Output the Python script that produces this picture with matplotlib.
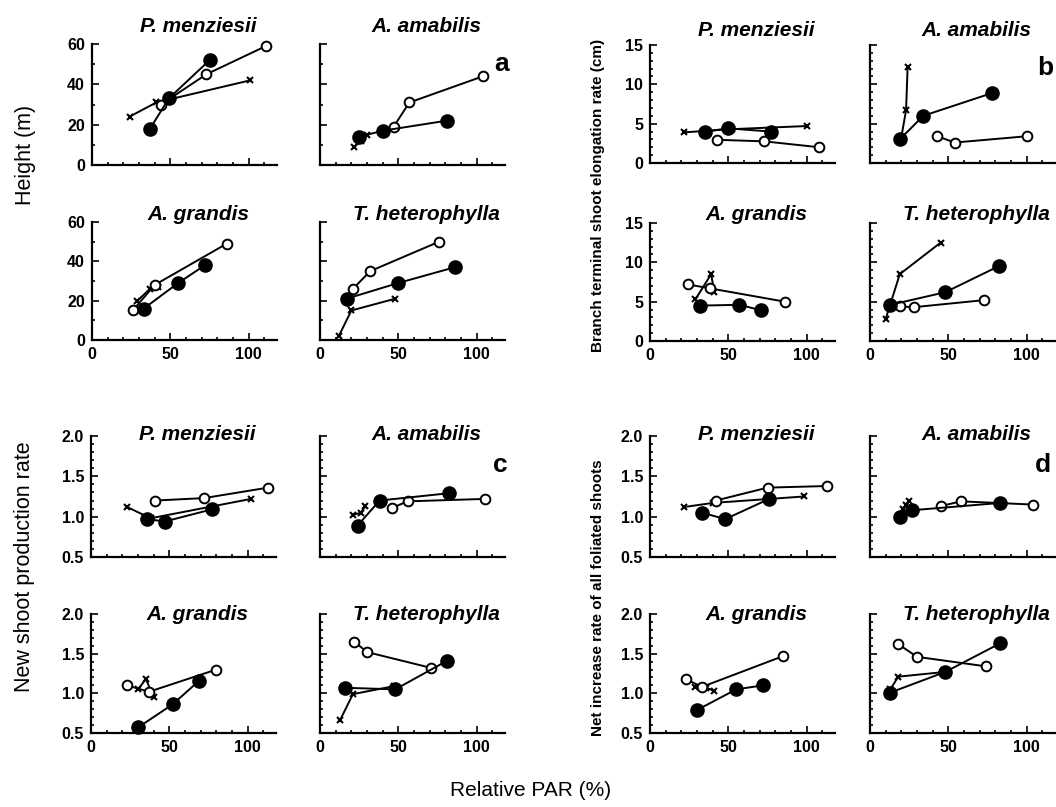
import matplotlib
matplotlib.use("Agg")
import matplotlib.pyplot as plt
from matplotlib.ticker import MultipleLocator

plt.rcParams["font.family"] = ["Liberation Sans", "DejaVu Sans"]

species = ["P. menziesii", "A. amabilis", "A. grandis", "T. heterophylla"]

# (a) height (m) vs relative PAR (%), one inner list per species
height_solid_par = [[37, 49, 75], [25, 40, 81], [33, 55, 72], [17, 50, 86]]
height_solid_val = [[18, 33, 52], [14, 17, 22], [16, 29, 38], [21, 29, 37]]
height_open_par = [[44, 73, 111], [47, 57, 104], [26, 40, 86], [21, 32, 76]]
height_open_val = [[30, 45, 59], [19, 31, 44], [15, 28, 49], [26, 35, 50]]
height_cross_par = [[24, 41, 101], [22, 26, 30], [29, 37, 42], [12, 20, 48]]
height_cross_val = [[24, 31, 42], [9, 12, 15], [20, 26, 27], [2, 15, 21]]

# (b) branch terminal shoot elongation rate (cm)
elong_solid_par = [[35, 50, 77], [19, 34, 78], [32, 57, 71], [13, 48, 82]]
elong_solid_val = [[4.0, 4.4, 4.0], [3.0, 6.0, 8.9], [4.5, 4.6, 3.9], [4.6, 6.2, 9.5]]
elong_open_par = [[43, 73, 108], [43, 54, 100], [24, 38, 86], [19, 28, 73]]
elong_open_val = [[2.95, 2.75, 2.0], [3.4, 2.6, 3.4], [7.2, 6.7, 5.0], [4.4, 4.3, 5.2]]
elong_cross_par = [[22, 52, 100], [20, 23, 24], [29, 39, 41], [10, 19, 45]]
elong_cross_val = [[3.9, 4.3, 4.7], [3.3, 6.7, 12.2], [5.3, 8.5, 6.2], [2.8, 8.5, 12.5]]

# (c) new shoot production rate
prod_solid_par = [[36, 47, 77], [24, 38, 82], [30, 52, 69], [16, 48, 81]]
prod_solid_val = [[0.97, 0.94, 1.09], [0.89, 1.20, 1.29], [0.57, 0.86, 1.16], [1.07, 1.05, 1.41]]
prod_open_par = [[41, 72, 113], [46, 56, 105], [23, 37, 80], [22, 30, 71]]
prod_open_val = [[1.20, 1.23, 1.36], [1.11, 1.19, 1.22], [1.10, 1.02, 1.30], [1.65, 1.52, 1.32]]
prod_cross_par = [[23, 38, 102], [21, 26, 29], [30, 35, 40], [13, 21, 47]]
prod_cross_val = [[1.12, 0.98, 1.22], [1.02, 1.05, 1.13], [1.05, 1.18, 0.95], [0.67, 0.99, 1.09]]

# (d) net increase rate of all foliated shoots
net_solid_par = [[33, 48, 76], [19, 27, 83], [30, 55, 72], [13, 48, 83]]
net_solid_val = [[1.05, 0.97, 1.22], [1.00, 1.08, 1.17], [0.79, 1.05, 1.10], [1.01, 1.27, 1.63]]
net_open_par = [[42, 75, 113], [45, 58, 104], [23, 33, 85], [18, 30, 74]]
net_open_val = [[1.20, 1.36, 1.38], [1.13, 1.19, 1.15], [1.18, 1.08, 1.47], [1.62, 1.46, 1.34]]
net_cross_par = [[22, 40, 98], [21, 23, 25], [29, 36, 41], [13, 18, 48]]
net_cross_val = [[1.12, 1.17, 1.25], [1.10, 1.15, 1.20], [1.08, 1.07, 1.03], [1.05, 1.21, 1.27]]

W, H = 1056, 807
AX_W = 185


def draw_group(fig, letter, data, lefts, tops, heights, title_y, ylim, major, minor, letter_xy):
    solid_p, solid_v, open_p, open_v, cross_p, cross_v = data
    for i, name in enumerate(species):
        row, col = divmod(i, 2)
        left, top, h = lefts[col], tops[row], heights[row]
        ax = fig.add_axes([left / W, 1 - (top + h) / H, AX_W / W, h / H])

        ax.plot(cross_p[i], cross_v[i], color="k", lw=1.4, marker="x", ms=5,
                mew=1.5, zorder=2, clip_on=False)
        ax.plot(open_p[i], open_v[i], color="k", lw=1.4, marker="o", ms=7,
                mfc="white", mec="k", mew=1.4, zorder=3, clip_on=False)
        ax.plot(solid_p[i], solid_v[i], color="k", lw=1.4, marker="o", ms=9.5,
                mfc="k", mec="k", zorder=4, clip_on=False)

        ax.set_xlim(0, 118)
        ax.set_ylim(*ylim)
        ax.xaxis.set_major_locator(MultipleLocator(50))
        ax.xaxis.set_minor_locator(MultipleLocator(10))
        ax.yaxis.set_major_locator(MultipleLocator(major))
        ax.yaxis.set_minor_locator(MultipleLocator(minor))
        for s in ("top", "right"):
            ax.spines[s].set_visible(False)
        for s in ("left", "bottom"):
            ax.spines[s].set_linewidth(1.6)
        ax.tick_params(which="both", direction="in", width=1.2, labelsize=11.5, pad=5)
        ax.tick_params(which="major", length=5)
        ax.tick_params(which="minor", length=2.5)
        ax.tick_params(labelbottom=(row == 1), labelleft=(col == 0))
        for lbl in ax.get_xticklabels() + ax.get_yticklabels():
            lbl.set_fontweight("bold")

        fig.text((left + AX_W / 2 + 14) / W, 1 - title_y[row] / H, name,
                 ha="center", va="center", style="italic", weight="bold", fontsize=15)

    fig.text(letter_xy[0] / W, 1 - letter_xy[1] / H, letter, ha="center",
             va="center", weight="bold", fontsize=19)


fig = plt.figure(figsize=(10.56, 8.07), dpi=100)

draw_group(fig, "a", (height_solid_par, height_solid_val, height_open_par,
                      height_open_val, height_cross_par, height_cross_val),
           (92, 320), (44, 222), (121, 118), (27, 215), (0, 60), 20, 10, (502, 64))
draw_group(fig, "b", (elong_solid_par, elong_solid_val, elong_open_par,
                      elong_open_val, elong_cross_par, elong_cross_val),
           (650, 870), (45, 223), (118, 118), (31, 214), (0, 15), 5, 1, (1045, 68))
draw_group(fig, "c", (prod_solid_par, prod_solid_val, prod_open_par,
                      prod_open_val, prod_cross_par, prod_cross_val),
           (91, 320), (436, 614), (121, 119), (434, 614), (0.5, 2.0), 0.5, 0.1, (500, 465))
draw_group(fig, "d", (net_solid_par, net_solid_val, net_open_par,
                      net_open_val, net_cross_par, net_cross_val),
           (650, 870), (436, 614), (121, 119), (434, 614), (0.5, 2.0), 0.5, 0.1, (1043, 465))

fig.text(25 / W, 1 - 155 / H, "Height (m)", rotation=90, ha="center", va="center", fontsize=15.5)
fig.text(25 / W, 1 - 567 / H, "New shoot production rate", rotation=90,
         ha="center", va="center", fontsize=15.5)
fig.text(598 / W, 1 - 195 / H, "Branch terminal shoot elongation rate (cm)", rotation=90,
         ha="center", va="center", fontsize=11, weight="bold")
fig.text(598 / W, 1 - 598 / H, "Net increase rate of all foliated shoots", rotation=90,
         ha="center", va="center", fontsize=11, weight="bold")
fig.text(531 / W, 1 - 790 / H, "Relative PAR (%)", ha="center", va="center", fontsize=15)

fig.savefig("out.png", dpi=100)
